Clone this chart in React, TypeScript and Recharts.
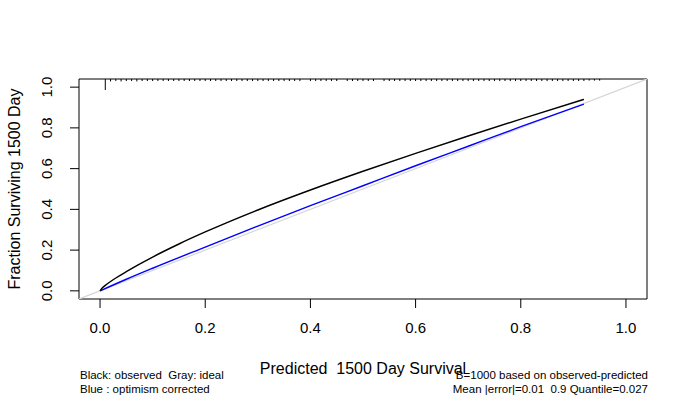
import { ComposedChart, Line, XAxis, YAxis, ReferenceArea, ReferenceLine } from "recharts";

const FONT = "'Liberation Sans', Arial, Helvetica, sans-serif";

const axisTicks = [0, 0.2, 0.4, 0.6, 0.8, 1.0];

// apparent (observed) calibration curve
const observed = [
  { x: 0, y: 0 },
  { x: 0.005, y: 0.016 },
  { x: 0.01, y: 0.027 },
  { x: 0.02, y: 0.046 },
  { x: 0.03, y: 0.063 },
  { x: 0.05, y: 0.094 },
  { x: 0.075, y: 0.131 },
  { x: 0.1, y: 0.166 },
  { x: 0.15, y: 0.23 },
  { x: 0.2, y: 0.289 },
  { x: 0.3, y: 0.397 },
  { x: 0.4, y: 0.495 },
  { x: 0.5, y: 0.587 },
  { x: 0.6, y: 0.675 },
  { x: 0.7, y: 0.76 },
  { x: 0.8, y: 0.843 },
  { x: 0.92, y: 0.94 },
];

// bias-corrected curve
const corrected = [
  { x: 0, y: 0 },
  { x: 0.05, y: 0.057 },
  { x: 0.1, y: 0.111 },
  { x: 0.2, y: 0.215 },
  { x: 0.3, y: 0.318 },
  { x: 0.4, y: 0.418 },
  { x: 0.5, y: 0.516 },
  { x: 0.6, y: 0.614 },
  { x: 0.7, y: 0.71 },
  { x: 0.8, y: 0.806 },
  { x: 0.92, y: 0.917 },
];

const ideal = [
  { x: -0.04, y: -0.04 },
  { x: 1.04, y: 1.04 },
];

// distribution of predicted values shown along the top edge
const rugX = [
  0.01, 0.02, 0.03, 0.04, 0.05, 0.06, 0.07, 0.08, 0.09, 0.1, 0.11, 0.12, 0.13, 0.14, 0.15,
  0.16, 0.17, 0.18, 0.19, 0.2, 0.21, 0.22, 0.23, 0.24, 0.25, 0.26, 0.27, 0.28, 0.29, 0.3,
  0.31, 0.32, 0.33, 0.34, 0.35, 0.36, 0.37, 0.38, 0.4, 0.41, 0.42, 0.43, 0.44, 0.45, 0.47,
  0.48, 0.49, 0.5, 0.51, 0.52, 0.54, 0.55, 0.56, 0.57, 0.58, 0.59, 0.6, 0.61, 0.62, 0.63,
  0.64, 0.65, 0.66, 0.67, 0.68, 0.69, 0.7, 0.71, 0.72, 0.73, 0.74, 0.75, 0.76, 0.77, 0.78,
  0.79, 0.8, 0.81, 0.82, 0.83, 0.84, 0.85, 0.86, 0.87, 0.88, 0.89, 0.9, 0.91, 0.92, 0.93,
  0.94, 0.95,
];
const rugH = [
  0.054, 0.012, 0.01, 0.012, 0.01, 0.01, 0.012, 0.01, 0.01, 0.01, 0.01, 0.01, 0.01, 0.01, 0.01,
  0.01, 0.01, 0.01, 0.01, 0.01, 0.01, 0.01, 0.01, 0.01, 0.01, 0.01, 0.01, 0.01, 0.01, 0.01,
  0.01, 0.01, 0.01, 0.01, 0.01, 0.01, 0.01, 0.01, 0.01, 0.01, 0.01, 0.01, 0.01, 0.01, 0.01,
  0.01, 0.01, 0.01, 0.01, 0.01, 0.01, 0.01, 0.01, 0.01, 0.01, 0.01, 0.01, 0.01, 0.01, 0.01,
  0.01, 0.01, 0.01, 0.01, 0.01, 0.01, 0.01, 0.01, 0.01, 0.01, 0.01, 0.01, 0.01, 0.01, 0.01,
  0.01, 0.01, 0.01, 0.01, 0.01, 0.01, 0.01, 0.01, 0.01, 0.01, 0.01, 0.01, 0.01, 0.01, 0.008,
  0.008, 0.008,
];

const TOP = 1.04;

function YTick(props: any) {
  const { y, payload } = props;
  return (
    <text
      x={52}
      y={y}
      transform={`rotate(-90 52 ${y})`}
      textAnchor="middle"
      fontSize={15}
      fontFamily={FONT}
      fill="#000"
    >
      {payload.value.toFixed(1)}
    </text>
  );
}

export default function App() {
  return (
    <div style={{ position: "absolute", left: 0, top: 0, width: 690, height: 399, background: "#fff" }}>
      <ComposedChart
        width={690}
        height={399}
        margin={{ top: 79, right: 43, bottom: 60, left: 0 }}
      >
        <XAxis
          type="number"
          dataKey="x"
          domain={[-0.04, 1.04]}
          ticks={axisTicks}
          allowDataOverflow
          axisLine={false}
          tickSize={9}
          tickMargin={14}
          tickLine={{ stroke: "#000" }}
          tickFormatter={(v: number) => v.toFixed(1)}
          tick={{ fill: "#000", fontSize: 15, fontFamily: FONT }}
          height={40}
        />
        <YAxis
          type="number"
          dataKey="y"
          domain={[-0.04, 1.04]}
          ticks={axisTicks}
          allowDataOverflow
          axisLine={false}
          tickSize={9}
          tickLine={{ stroke: "#000" }}
          tick={<YTick />}
          width={79}
        />
        <Line
          data={ideal}
          dataKey="y"
          type="linear"
          stroke="#d6d6d6"
          strokeWidth={1.2}
          dot={false}
          isAnimationActive={false}
        />
        <Line
          data={corrected}
          dataKey="y"
          type="monotone"
          stroke="#0000ff"
          strokeWidth={1.4}
          dot={false}
          isAnimationActive={false}
        />
        <Line
          data={observed}
          dataKey="y"
          type="monotone"
          stroke="#000"
          strokeWidth={1.4}
          dot={false}
          isAnimationActive={false}
        />
        {rugX.map((x, i) => (
          <ReferenceLine
            key={i}
            segment={[
              { x, y: TOP },
              { x, y: TOP - rugH[i] },
            ]}
            stroke="#000"
            strokeWidth={1}
            ifOverflow="visible"
          />
        ))}
        <ReferenceArea
          x1={-0.04}
          x2={1.04}
          y1={-0.04}
          y2={1.04}
          fill="none"
          stroke="#000"
          strokeWidth={1}
          ifOverflow="visible"
        />
      </ComposedChart>
      <svg
        width={690}
        height={399}
        style={{ position: "absolute", left: 0, top: 0, pointerEvents: "none" }}
        fontFamily={FONT}
      >
        <text x={363} y={374} textAnchor="middle" fontSize={16} style={{ whiteSpace: "pre" }}>
          {"Predicted  1500 Day Survival"}
        </text>
        <text x={20} y={189} textAnchor="middle" fontSize={16} transform="rotate(-90 20 189)">
          Fraction Surviving 1500 Day
        </text>
        <text x={80} y={379} fontSize={11.5} style={{ whiteSpace: "pre" }}>
          {"Black: observed  Gray: ideal"}
        </text>
        <text x={80} y={393} fontSize={11.5} style={{ whiteSpace: "pre" }}>
          {"Blue : optimism corrected"}
        </text>
        <text x={648} y={379} fontSize={11.5} textAnchor="end">
          B=1000 based on observed-predicted
        </text>
        <text x={648} y={393} fontSize={11.5} textAnchor="end" style={{ whiteSpace: "pre" }}>
          {"Mean |error|=0.01  0.9 Quantile=0.027"}
        </text>
      </svg>
    </div>
  );
}
